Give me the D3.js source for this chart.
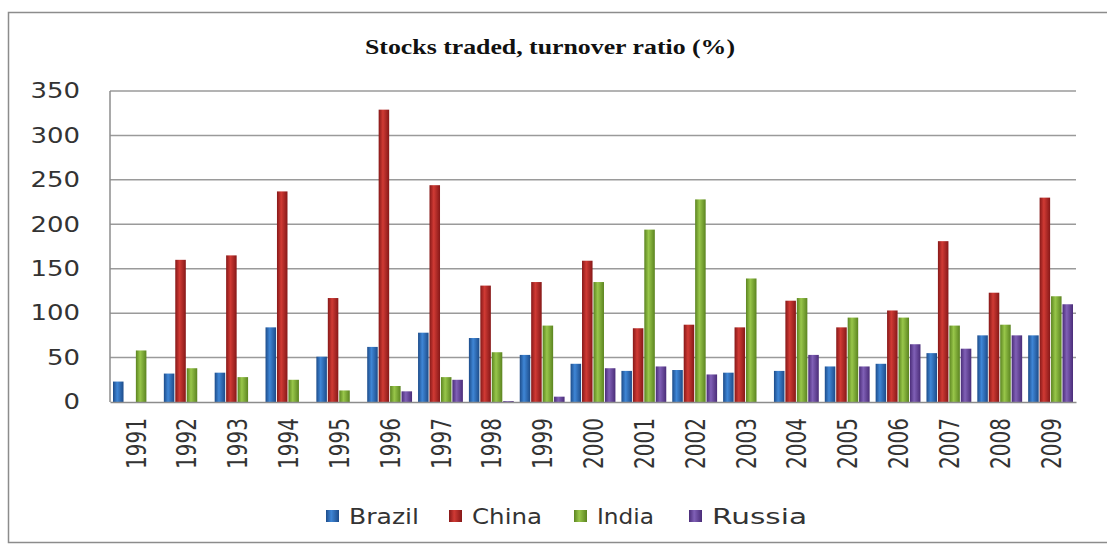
<!DOCTYPE html>
<html lang="en">
<head>
  <meta charset="UTF-8">
  <title>Stocks traded, turnover ratio (%)</title>
  <style>
    body { margin: 0; background: #fff; }
    svg { display: block; }
  </style>
</head>
<body>
  <svg id="svg" width="1107" height="547"></svg>
  <script src="https://d3js.org/d3.v7.min.js"></script>
  <script>
    // chart data
    const years = ['1991', '1992', '1993', '1994', '1995', '1996', '1997', '1998', '1999', '2000',
      '2001', '2002', '2003', '2004', '2005', '2006', '2007', '2008', '2009']
    const countries = ['Brazil', 'China', 'India', 'Russia']
    const brazil = [23, 32, 33, 84, 51, 62, 78, 72, 53, 43, 35, 36, 33, 35, 40, 43, 55, 75, 75]
    const china = [null, 160, 165, 237, 117, 329, 244, 131, 135, 159, 83, 87, 84, 114, 84, 103, 181, 123, 230]
    const india = [58, 38, 28, 25, 13, 18, 28, 56, 86, 135, 194, 228, 139, 117, 95, 95, 86, 87, 119]
    const russia = [null, null, null, null, null, 12, 25, 1, 6, 38, 40, 31, null, 53, 40, 65, 60, 75, 110]
    const yTicks = [0, 50, 100, 150, 200, 250, 300, 350]

    const series = [brazil, china, india, russia]
    // edge / centre shades for the cylinder-like bars
    const shades = [
      ['#1d4c8a', '#3f86d6'],
      ['#861818', '#d03a34'],
      ['#5b8420', '#98c64a'],
      ['#4a2c78', '#8060b6']
    ]

    const margin = { top: 91, left: 110, right: 31, bottom: 145 }
    const width = 1107 - margin.left - margin.right
    const height = 547 - margin.top - margin.bottom

    const svg = d3.select('#svg')

    // gradients
    const defs = svg.append('defs')
    countries.forEach((c, i) => {
      const g = defs.append('linearGradient')
        .attr('id', 'grad' + i)
        .attr('x1', '0%').attr('x2', '100%').attr('y1', '0%').attr('y2', '0%')
      g.append('stop').attr('offset', '0%').attr('stop-color', shades[i][0])
      g.append('stop').attr('offset', '40%').attr('stop-color', shades[i][1])
      g.append('stop').attr('offset', '100%').attr('stop-color', shades[i][0])
    })

    // outer frame
    svg.append('rect')
      .attr('x', 8.5).attr('y', 12.5)
      .attr('width', 1120).attr('height', 530)
      .attr('fill', 'none')
      .attr('stroke', '#8c8c8c')
      .attr('stroke-width', 1.5)

    // title
    svg.append('text')
      .attr('x', 550).attr('y', 54)
      .attr('text-anchor', 'middle')
      .attr('font-family', 'Liberation Serif')
      .attr('font-weight', 'bold')
      .attr('font-size', 21)
      .attr('textLength', 370)
      .attr('lengthAdjust', 'spacingAndGlyphs')
      .attr('fill', '#111')
      .text('Stocks traded, turnover ratio (%)')

    const x0 = d3.scaleBand()
      .domain(years)
      .range([margin.left, margin.left + width])

    const x1 = d3.scaleBand()
      .domain(countries)
      .range([3, x0.bandwidth() - 3])
      .paddingInner(0.08)

    const y = d3.scaleLinear()
      .domain([0, 350])
      .range([margin.top + height, margin.top])

    // gridlines
    svg.append('g')
      .selectAll('line')
      .data(yTicks.slice(1))
      .enter()
      .append('line')
      .attr('x1', margin.left)
      .attr('x2', margin.left + width)
      .attr('y1', d => y(d))
      .attr('y2', d => y(d))
      .attr('stroke', '#9a9a9a')
      .attr('stroke-width', 1.5)

    // y axis (labels only + left line)
    const leftAxis = d3.axisLeft(y)
      .tickValues(yTicks)
      .tickSize(0)
      .tickPadding(0)
    const ya = svg.append('g')
      .attr('transform', `translate(80, 0)`)
      .call(leftAxis)
    ya.select('.domain').remove()
    ya.selectAll('text')
      .attr('font-family', 'DejaVu Sans')
      .attr('font-size', 21)
      .attr('fill', '#333')
      .attr('textLength', d => String(d).length * 16.5)
      .attr('lengthAdjust', 'spacingAndGlyphs')

    svg.append('line')
      .attr('x1', margin.left).attr('x2', margin.left)
      .attr('y1', margin.top).attr('y2', margin.top + height)
      .attr('stroke', '#8c8c8c').attr('stroke-width', 1.5)

    // bars
    const groups = svg.append('g')
      .selectAll('g')
      .data(years)
      .enter()
      .append('g')
      .attr('transform', d => `translate(${x0(d)}, 0)`)

    groups.selectAll('rect')
      .data((d, i) => countries.map((c, k) => ({ c, k, v: series[k][i] })).filter(e => e.v != null))
      .enter()
      .append('rect')
      .attr('x', d => x1(d.c))
      .attr('y', d => y(d.v))
      .attr('width', x1.bandwidth())
      .attr('height', d => y(0) - y(d.v))
      .attr('fill', d => `url(#grad${d.k})`)

    // x axis
    const bottomAxis = d3.axisBottom(x0).tickSize(0).tickPadding(0)
    const xa = svg.append('g')
      .attr('transform', `translate(0, ${margin.top + height})`)
      .call(bottomAxis)
    xa.select('.domain')
      .attr('stroke', '#8c8c8c').attr('stroke-width', 1.5)
    xa.selectAll('text')
      .attr('font-family', 'DejaVu Sans')
      .attr('font-size', 20)
      .attr('fill', '#333')
      .attr('text-anchor', 'end')
      .attr('dy', '0.35em')
      .attr('transform', 'translate(1, 16) rotate(-90) scale(1, 1.3)')
      .attr('x', 0).attr('y', 0)

    // legend
    const legendX = [326, 449, 574, 689]
    const legendLen = [70, 70, 57, 95]
    const legend = svg.append('g')
      .selectAll('g')
      .data(countries)
      .enter()
      .append('g')
      .attr('transform', (d, i) => `translate(${legendX[i]}, 516)`)
    legend.append('rect')
      .attr('x', 0).attr('y', -6)
      .attr('width', 13).attr('height', 12)
      .attr('fill', (d, i) => `url(#grad${i})`)
    legend.append('text')
      .attr('x', 23).attr('y', 0)
      .attr('dy', '0.36em')
      .attr('font-family', 'DejaVu Sans')
      .attr('font-size', 21)
      .attr('fill', '#333')
      .attr('textLength', (d, i) => legendLen[i])
      .attr('lengthAdjust', 'spacingAndGlyphs')
      .text(d => d)
  </script>
</body>
</html>
